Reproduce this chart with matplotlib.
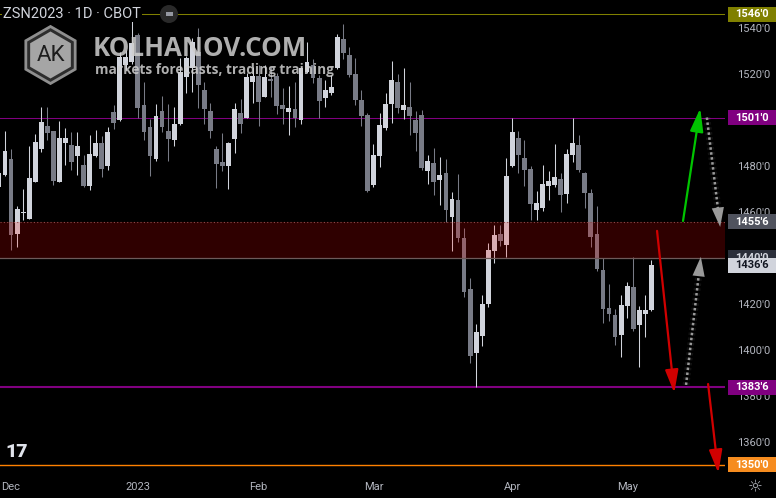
import matplotlib
matplotlib.use('Agg')
import matplotlib.pyplot as plt
import matplotlib.transforms as mtransforms
import matplotlib.patheffects as pe
from matplotlib.patches import Rectangle, RegularPolygon, Circle

plt.rcParams['font.family'] = ['Roboto', 'DejaVu Sans']

# ZSN2023 daily candles, Nov 29 2022 .. May 5 2023 (index = trading day, 1 = Dec 1)
days = list(range(-1, 108))
opens = [1470.8, 1476.0, 1483.0, 1450.3, 1459.5, 1456.9, 1473.0, 1487.3, 1497.3, 1495.1,
         1473.0, 1489.9, 1489.0, 1484.3, 1480.3, 1471.2, 1484.3, 1489.9, 1479.9, 1503.4,
         1499.9, 1523.8, 1525.1, 1536.9, 1506.4, 1496.9, 1483.0, 1503.8, 1495.1, 1491.2,
         1498.2, 1518.6, 1522.5, 1529.5, 1513.0, 1503.8, 1487.3, 1481.7, 1479.9, 1491.7,
         1503.0, 1500.8, 1516.4, 1519.0, 1509.9, 1517.7, 1519.0, 1506.4, 1503.4, 1504.7,
         1499.9, 1520.8, 1523.8, 1518.2, 1509.5, 1511.7, 1522.5, 1535.1, 1528.2, 1519.9,
         1508.6, 1502.1, 1471.7, 1484.3, 1496.4, 1506.9, 1516.4, 1504.3, 1505.6, 1499.9,
         1502.1, 1477.7, 1481.2, 1473.8, 1476.9, 1457.7, 1465.1, 1448.6, 1426.4, 1398.6,
         1406.0, 1419.9, 1443.0, 1450.3, 1445.6, 1479.9, 1492.1, 1483.4, 1478.6, 1460.8,
         1461.7, 1471.2, 1471.7, 1474.3, 1467.7, 1484.7, 1489.0, 1476.9, 1468.2, 1450.3,
         1434.7, 1418.2, 1415.1, 1406.4, 1419.0, 1427.3, 1410.8, 1415.6, 1417.3]
highs = [1478.2, 1495.1, 1487.3, 1462.5, 1469.9, 1488.6, 1493.8, 1505.6, 1505.6, 1495.1,
         1499.5, 1496.4, 1494.7, 1494.7, 1484.7, 1493.4, 1495.6, 1493.0, 1496.9, 1506.4,
         1529.5, 1530.3, 1546.0, 1537.7, 1516.4, 1500.3, 1506.9, 1510.3, 1506.9, 1505.6,
         1526.9, 1527.7, 1535.6, 1539.9, 1516.4, 1507.3, 1488.6, 1494.3, 1490.3, 1507.3,
         1509.0, 1520.3, 1523.0, 1523.8, 1523.8, 1523.0, 1520.3, 1513.8, 1514.7, 1516.4,
         1523.0, 1533.8, 1526.4, 1519.5, 1517.3, 1519.5, 1537.3, 1541.7, 1531.7, 1526.9,
         1513.0, 1503.0, 1489.5, 1503.0, 1511.7, 1525.6, 1519.9, 1522.5, 1516.4, 1503.8,
         1504.3, 1484.7, 1487.7, 1483.8, 1483.0, 1468.6, 1476.4, 1453.0, 1431.2, 1411.2,
         1423.8, 1446.4, 1454.3, 1454.3, 1483.4, 1501.0, 1495.1, 1491.2, 1479.9, 1469.0,
         1480.3, 1477.7, 1489.5, 1476.9, 1487.3, 1501.0, 1493.4, 1477.3, 1469.9, 1462.5,
         1439.9, 1428.6, 1417.7, 1423.8, 1429.5, 1440.3, 1419.0, 1423.8, 1439.0]
lows = [1469.5, 1475.6, 1443.4, 1444.7, 1456.4, 1456.9, 1473.0, 1486.0, 1491.2, 1471.7,
        1473.0, 1480.3, 1478.2, 1476.0, 1470.8, 1469.5, 1483.8, 1475.1, 1478.2, 1496.0,
        1499.5, 1521.7, 1524.3, 1500.8, 1491.2, 1475.6, 1482.1, 1494.7, 1482.1, 1488.6,
        1497.7, 1511.7, 1512.1, 1505.1, 1498.2, 1492.1, 1470.3, 1477.7, 1469.9, 1485.6,
        1494.3, 1500.8, 1507.3, 1497.3, 1509.9, 1509.9, 1502.5, 1498.2, 1493.4, 1496.9,
        1498.2, 1520.3, 1516.0, 1500.8, 1505.6, 1510.8, 1522.1, 1526.4, 1518.6, 1506.4,
        1497.3, 1468.6, 1470.8, 1479.5, 1495.6, 1498.6, 1503.0, 1500.3, 1493.4, 1486.4,
        1478.2, 1472.1, 1467.3, 1463.0, 1455.6, 1443.0, 1446.9, 1423.0, 1394.3, 1383.75,
        1401.7, 1418.6, 1437.7, 1445.1, 1440.3, 1479.5, 1476.9, 1471.2, 1456.4, 1456.4,
        1460.3, 1465.1, 1470.8, 1459.9, 1463.8, 1481.7, 1477.3, 1461.7, 1444.7, 1434.3,
        1411.7, 1412.5, 1402.1, 1396.9, 1413.8, 1408.2, 1392.5, 1405.6, 1416.9]
closes = [1476.9, 1486.4, 1449.9, 1461.2, 1459.9, 1474.7, 1490.3, 1499.0, 1494.3, 1473.4,
          1492.1, 1492.1, 1481.7, 1488.6, 1471.2, 1485.1, 1489.9, 1478.6, 1494.7, 1498.6,
          1527.3, 1527.3, 1533.4, 1505.1, 1494.7, 1484.3, 1501.7, 1496.9, 1491.7, 1498.2,
          1520.8, 1526.9, 1533.8, 1515.1, 1504.7, 1495.1, 1480.8, 1479.9, 1489.9, 1504.7,
          1498.2, 1518.6, 1519.0, 1507.7, 1518.6, 1516.9, 1506.0, 1504.7, 1505.1, 1500.8,
          1522.5, 1525.1, 1518.2, 1508.2, 1513.0, 1514.3, 1536.0, 1529.0, 1519.5, 1508.6,
          1501.7, 1469.0, 1484.7, 1497.7, 1506.9, 1517.3, 1505.1, 1506.4, 1501.7, 1494.3,
          1479.0, 1482.1, 1473.0, 1476.0, 1460.8, 1465.6, 1448.6, 1425.1, 1397.3, 1407.7,
          1419.9, 1443.4, 1449.9, 1447.3, 1475.6, 1494.7, 1484.7, 1478.2, 1463.4, 1463.8,
          1472.1, 1473.4, 1475.1, 1467.3, 1485.1, 1489.9, 1478.2, 1468.2, 1449.0, 1435.1,
          1417.7, 1415.6, 1405.6, 1419.5, 1427.7, 1409.0, 1417.3, 1417.3, 1436.75]

month_pos = [1, 22, 42, 61, 84, 103]
month_labels = ['Dec', '2023', 'Feb', 'Mar', 'Apr', 'May']
# 1500 and 1440 sit under the level tags, so they are left out
price_ticks = [1360, 1380, 1400, 1420, 1460, 1480, 1520, 1540]

zone_low, zone_high = 1440.0, 1455.75
level_prices = [1546.0, 1501.0, 1383.75, 1350.0]
level_colors = ['#808000', '#800080', '#800080', '#ff8000']
level_widths = [0.75, 0.75, 1.5, 1.0]

# projected moves drawn on the chart: (x0, y0, x1, y1, color, dotted)
arrows = [(112.25, 1456.0, 115.1, 1505.0, '#00c400', False),
          (116.2, 1501.0, 118.4, 1453.4, '#9a9a9a', True),
          (107.95, 1451.7, 110.8, 1381.2, '#d10000', False),
          (112.75, 1384.7, 115.2, 1440.4, '#9a9a9a', True),
          (116.4, 1385.1, 118.1, 1346.4, '#d10000', False)]

# price scale tags: (price, text, background, text colour)
tags = [(1546.0, "1546'0", '#808000', 'white'),
        (1501.0, "1501'0", '#800080', 'white'),
        (1455.75, "1455'6", '#50535e', 'white'),
        (1440.0, "1440'0", '#2a2e39', '#d1d4dc'),
        (1436.75, "1436'6", '#d1d4dc', '#131722'),
        (1383.75, "1383'6", '#800080', 'white'),
        (1350.0, "1350'0", '#f68c1f', 'white')]

up_col, dn_col = '#d1d4dc', '#787b86'

fig = plt.figure(figsize=(7.76, 4.98), dpi=100, facecolor='black')
ax = fig.add_axes([0, 22 / 498, 725 / 776, 476 / 498], facecolor='black')
ymin, ymax = 1345.1, 1552.1
ax.set_ylim(ymin, ymax)
ax.set_xlim(-0.83, 119.2)

cols = [up_col if c >= o else dn_col for o, c in zip(opens, closes)]
bottoms = [min(o, c) for o, c in zip(opens, closes)]
heights = [max(abs(c - o), 0.45) for o, c in zip(opens, closes)]
ax.vlines(days, lows, highs, colors=cols, linewidth=0.75, zorder=2)
ax.bar(days, heights, bottom=bottoms, width=0.8, color=cols, linewidth=0, zorder=2.5)

for p, c, w in zip(level_prices, level_colors, level_widths):
    ax.axhline(p, color=c, lw=w, zorder=1)

ax.axhspan(zone_low, zone_high, facecolor='#ff0000', alpha=0.19, lw=0, zorder=3)
ax.axhline(zone_high, color='#8a4a4a', lw=0.8, ls=(0, (1, 2)), zorder=3)
ax.axhline(zone_low, color='#6e5a5a', lw=0.9, zorder=3)

glow = [pe.Stroke(linewidth=5, foreground='white', alpha=0.07), pe.Normal()]
for x0, y0, x1, y1, c, dotted in arrows:
    if dotted:
        ax.plot([x0, x1 - 0.15 * (x1 - x0)], [y0, y1 - 0.15 * (y1 - y0)], color=c, lw=1.8,
                dashes=(1, 1), zorder=5, path_effects=glow)
        ax.annotate('', xy=(x1, y1), xytext=(x1 - 0.2 * (x1 - x0), y1 - 0.2 * (y1 - y0)),
                    arrowprops=dict(arrowstyle='-|>,head_length=0.7,head_width=0.22', color=c, lw=0,
                                    shrinkA=0, shrinkB=0, mutation_scale=20), zorder=5)
    else:
        ax.annotate('', xy=(x1, y1), xytext=(x0, y0),
                    arrowprops=dict(arrowstyle='-|>,head_length=0.7,head_width=0.2', color=c, lw=1.6,
                                    shrinkA=0, shrinkB=0, mutation_scale=20), zorder=5)

for s in ax.spines.values():
    s.set_visible(False)
ax.yaxis.tick_right()
ax.set_yticks(price_ticks, [f"{v}'0" for v in price_ticks])
ax.set_xticks(month_pos, month_labels)
ax.tick_params(axis='y', length=0, pad=8.5, colors='#b2b5be', labelsize=8)
ax.tick_params(axis='x', length=0, pad=4, colors='#b2b5be', labelsize=8)

trans = mtransforms.blended_transform_factory(ax.transAxes, ax.transData)
box_h = (ymax - ymin) / 476 * 15
for p, txt, bg, fg in tags:
    ax.add_patch(Rectangle((1.004, p - box_h / 2), 0.066, box_h, transform=trans,
                           facecolor=bg, edgecolor='none', clip_on=False, zorder=6))
    ax.text(1.037, p, txt, transform=trans, ha='center', va='center', color=fg,
            fontsize=8, fontweight='bold', zorder=7, clip_on=False)

# header and watermark
fig.text(3 / 776, 1 - 14 / 498, 'ZSN2023 · 1D · CBOT', va='center', ha='left', color='#d1d4dc',
         fontsize=10.5, bbox=dict(facecolor='black', edgecolor='none', pad=1))
fig.add_artist(Circle((1.69, 4.84), 0.09, transform=fig.dpi_scale_trans, facecolor='#2a2a2a',
                      edgecolor='none'))
fig.add_artist(Rectangle((1.655, 4.825), 0.07, 0.03, transform=fig.dpi_scale_trans,
                         facecolor='#9598a1', edgecolor='none'))

fig.add_artist(RegularPolygon((0.505, 4.43), 6, radius=0.285, transform=fig.dpi_scale_trans,
                              facecolor='#2d2d2d', edgecolor='#8f8f8f', lw=2, zorder=8))
fig.add_artist(RegularPolygon((0.505, 4.43), 6, radius=0.235, transform=fig.dpi_scale_trans,
                              facecolor='#a5a5a5', edgecolor='none', zorder=8))
fig.text(0.505 / 7.76, 4.43 / 4.98, 'AK', ha='center', va='center', color='#1e1e1e',
         fontsize=16, zorder=9)
fig.text(93 / 776, 1 - 49 / 498, 'KOLHANOV.COM', ha='left', va='center', color='#cfcfcf',
         alpha=0.85, fontsize=18.6, fontweight='bold', family=['Open Sans', 'DejaVu Sans'], zorder=9)
fig.text(95 / 776, 1 - 70 / 498, 'markets forecasts, trading training', ha='left', va='center',
         color='#cfcfcf', alpha=0.85, fontsize=9.8, fontweight='bold',
         family=['Open Sans', 'DejaVu Sans'], zorder=9)

fig.text(5 / 776, 1 - 452 / 498, '17', ha='left', va='center', color='#e0e3eb', fontsize=14,
         fontweight='black')
fig.text(755 / 776, 1 - 487 / 498, '☼', ha='center', va='center', color='#b2b5be', fontsize=12,
         family=['DejaVu Sans'])

fig.savefig('out.png', dpi=100, facecolor='black')
